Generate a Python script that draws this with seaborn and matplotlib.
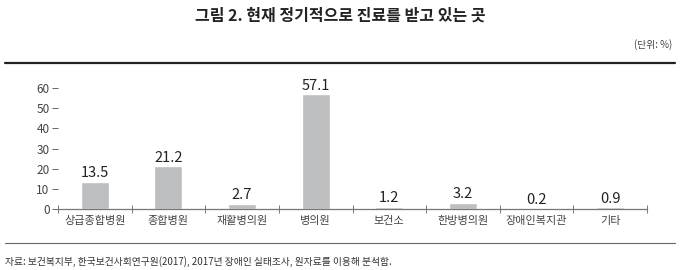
import matplotlib
matplotlib.use("Agg")
import matplotlib.pyplot as plt
import seaborn as sns
import pandas as pd
from matplotlib.lines import Line2D
from matplotlib.ticker import FixedLocator

categories = ["상급종합병원", "종합병원", "재활병의원", "병의원", "보건소", "한방병의원", "장애인복지관", "기타"]
values = [13.5, 21.2, 2.7, 57.1, 1.2, 3.2, 0.2, 0.9]
yticks = [0, 10, 20, 30, 40, 50, 60]

title = "그림 2. 현재 정기적으로 진료를 받고 있는 곳"
unit = "(단위: %)"
source = "자료: 보건복지부, 한국보건사회연구원(2017), 2017년 장애인 실태조사, 원자료를 이용해 분석함."

sns.set_theme(style="white")
plt.rcParams["font.family"] = ["Noto Sans CJK KR", "DejaVu Sans"]

df = pd.DataFrame({"cat": categories, "val": values})

fig = plt.figure(figsize=(6.8, 2.7), dpi=100)
ax = fig.add_axes([58/680, 61/270, (647-58)/680, 127/270])

sns.barplot(data=df, x="cat", y="val", color="#BDBEC0", width=0.38, ax=ax, saturation=1)

for c in ax.containers:
    ax.bar_label(c, fmt="%.1f", padding=1, fontsize=10.5, color="#222222")

ax.set_xlim(-0.5, len(categories) - 0.5)
ax.set_ylim(0, 63)
ax.set_yticks(yticks)
ax.set_xlabel("")
ax.set_ylabel("")

for s in ["top", "right", "left"]:
    ax.spines[s].set_visible(False)
ax.spines["bottom"].set_color("#777777")
ax.spines["bottom"].set_linewidth(0.9)

ax.tick_params(axis="y", direction="out", length=4, width=0.7, color="#666666",
               labelsize=8.5, labelcolor="#444444", pad=2, left=True)
ax.tick_params(axis="x", which="major", length=0, labelsize=8, labelcolor="#444444", pad=5)
ax.xaxis.set_minor_locator(FixedLocator([i - 0.5 for i in range(len(categories) + 1)]))
ax.tick_params(axis="x", which="minor", direction="inout", length=6, width=0.7,
               color="#777777", bottom=True)
ax.grid(False)

fig.text(0.5, 1 - 16/270, title, ha="center", va="center", fontsize=11.5, fontweight="bold", color="#222222")
fig.text(672/680, 1 - 45/270, unit, ha="right", va="center", fontsize=7, color="#444444")
fig.text(5/680, 1 - 262/270, source, ha="left", va="center", fontsize=7, color="#333333")

fig.add_artist(Line2D([5/680, 675/680], [1 - 63/270, 1 - 63/270], color="#222222", linewidth=1.6))
fig.add_artist(Line2D([5/680, 675/680], [1 - 243/270, 1 - 243/270], color="#666666", linewidth=0.8))

fig.savefig("out.png", dpi=100)
